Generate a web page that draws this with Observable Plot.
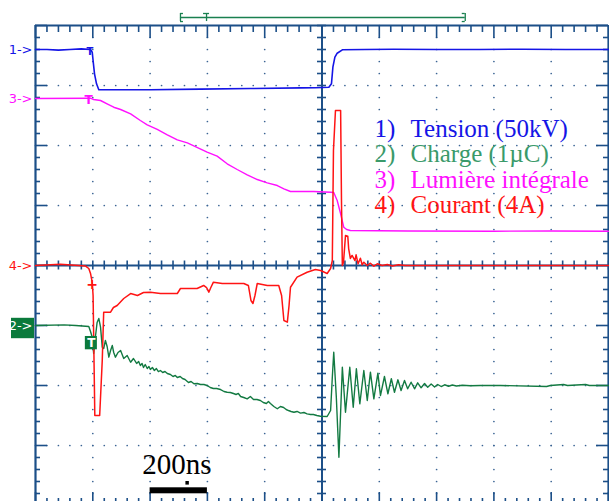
<!DOCTYPE html>
<html>
<head>
<meta charset="utf-8">
<script src="https://cdn.jsdelivr.net/npm/d3@7"></script>
<script src="https://cdn.jsdelivr.net/npm/@observablehq/plot@0.6"></script>
<style>
  html, body { margin: 0; padding: 0; background: #fff; overflow: hidden; }
  #chart { width: 609px; height: 501px; }
</style>
</head>
<body>
<div id="chart"></div>
<script>
// Time in ns (200 ns / division), value in screen divisions (0 = centre line)
const tensionT = [0, 40, 80, 120, 160, 192, 198, 201, 206, 213, 221, 272, 401, 576, 750, 925, 977, 1024, 1033, 1038, 1045, 1053, 1071, 1150, 1250, 1400, 1550, 1700, 1850, 2000];
const tensionV = [3.6, 3.6, 3.59, 3.6, 3.61, 3.6, 3.555, 3.417, 3.195, 3.028, 2.928, 2.928, 2.93, 2.94, 2.95, 2.96, 2.963, 2.97, 3.028, 3.305, 3.472, 3.538, 3.595, 3.6, 3.605, 3.6, 3.6, 3.605, 3.6, 3.6];

const lumiereT = [0, 192, 203, 227, 250, 273, 297, 332, 366, 390, 425, 460, 495, 530, 558, 599, 634, 669, 704, 739, 774, 809, 844, 867, 890, 971, 1030, 1041, 1053, 1065, 1076, 1086, 1099, 1300, 1600, 1800, 2000];
const lumiereV = [2.783, 2.788, 2.767, 2.75, 2.695, 2.638, 2.6, 2.528, 2.417, 2.345, 2.267, 2.178, 2.095, 2.045, 1.983, 1.888, 1.822, 1.695, 1.6, 1.512, 1.433, 1.378, 1.333, 1.278, 1.233, 1.233, 1.222, 1.217, 1.083, 0.862, 0.638, 0.6, 0.583, 0.575, 0.572, 0.575, 0.572];

const courantT = [0, 87, 175, 186, 192, 198, 201, 207, 224, 233, 238, 262, 272, 285, 308, 332, 356, 377, 401, 436, 495, 506, 564, 587, 597, 605, 612, 621, 652, 727, 743, 752, 759, 766, 774, 809, 849, 859, 867, 879, 885, 890, 913, 948, 977, 995, 1018, 1030, 1036, 1040, 1047, 1065, 1068, 1071, 1075, 1082, 1090, 1093, 1099, 1105, 1115, 1119, 1126, 1134, 1140, 1146, 1158, 1169, 1181, 1193, 1210, 1228, 1246, 1267, 1291, 2000];
const courantV = [0, 0.02, -0.01, -0.05, -0.133, -0.283, -0.5, -2.5, -2.5, -1.583, -0.778, -0.778, -0.7, -0.667, -0.55, -0.467, -0.5, -0.45, -0.445, -0.467, -0.467, -0.383, -0.383, -0.333, -0.367, -0.445, -0.367, -0.278, -0.3, -0.3, -0.333, -0.583, -0.633, -0.5, -0.3, -0.333, -0.333, -0.5, -0.917, -0.945, -0.667, -0.362, -0.195, -0.112, -0.067, -0.083, -0.133, -0.05, 0.083, 1.917, 2.583, 2.583, 1.083, 0, 0.05, 0.5, 0.488, 0.283, 0.117, 0.167, 0.083, 0.178, 0.028, 0.122, 0.012, 0.055, 0, 0.038, -0.012, 0.028, 0, 0.017, -0.008, 0.012, 0, 0];

const chargeT = [0, 100, 140, 175, 186, 192, 198, 203, 209, 215, 221, 227, 233, 238, 244, 250, 256, 262, 268, 273, 279, 288, 297, 308, 320, 332, 342, 353, 360, 366, 372, 377, 383, 390, 396, 401, 408, 415, 422, 429, 436, 444, 452, 460, 471, 480, 488, 495, 505, 513, 522, 534, 543, 553, 565, 576, 588, 599, 610, 621, 632, 646, 658, 669, 680, 691, 700, 708, 716, 727, 739, 750, 761, 773, 785, 795, 806, 813, 820, 832, 844, 855, 866, 875, 883, 892, 902, 913, 925, 937, 948, 960, 970, 982, 995, 1018, 1030, 1036, 1041, 1050, 1059, 1071, 1082, 1097, 1109, 1120, 1132, 1146, 1158, 1169, 1181, 1195, 1204, 1218, 1230, 1242, 1253, 1265, 1276, 1288, 1299, 1311, 1323, 1334, 1346, 1358, 1369, 1381, 1393, 1404, 1416, 1428, 1442, 1455, 1469, 1490, 1518, 1553, 1623, 1784, 1797, 1843, 1857, 1920, 1933, 2000];
const chargeV = [-1.0, -0.99, -1.0, -1.012, -1.017, -1.1, -1.195, -1.467, -1.195, -0.95, -0.883, -1.028, -1.362, -1.383, -1.25, -1.35, -1.528, -1.417, -1.333, -1.45, -1.528, -1.45, -1.417, -1.55, -1.5, -1.612, -1.55, -1.633, -1.6, -1.667, -1.633, -1.7, -1.65, -1.717, -1.683, -1.733, -1.7, -1.75, -1.717, -1.767, -1.75, -1.783, -1.767, -1.8, -1.817, -1.85, -1.833, -1.867, -1.85, -1.883, -1.9, -1.95, -1.933, -1.972, -1.967, -1.983, -1.983, -2.0, -2.033, -2.05, -2.05, -2.067, -2.1, -2.112, -2.117, -2.133, -2.15, -2.133, -2.183, -2.2, -2.222, -2.183, -2.233, -2.233, -2.25, -2.283, -2.3, -2.267, -2.3, -2.35, -2.388, -2.35, -2.367, -2.4, -2.417, -2.433, -2.445, -2.433, -2.46, -2.45, -2.472, -2.483, -2.483, -2.5, -2.512, -2.517, -2.417, -1.862, -1.445, -2.195, -3.195, -1.695, -2.445, -1.695, -2.362, -1.722, -2.305, -1.75, -2.25, -1.778, -2.222, -1.795, -2.167, -1.85, -2.138, -1.888, -2.112, -1.905, -2.083, -1.917, -2.055, -1.945, -2.055, -1.955, -2.038, -1.967, -2.028, -1.975, -2.025, -1.983, -2.017, -1.988, -2.012, -1.992, -2.008, -1.997, -2.005, -2.0, -2.0, -2.017, -2.0, -1.983, -2.0, -1.983, -2.0, -2.0];

const legendNums = ["1)", "2)", "3)", "4)"];
const legendNames = ["Tension (50kV)", "Charge (1\u00b5C)", "Lumi\u00e8re int\u00e9grale", "Courant (4A)"];
const legendColors = ["#1515e6", "#3a9a6a", "#ff10ff", "#ff1414"];
const channelLabels = ["1->", "3->", "4->", "2->"];
const channelLevels = [3.6, 2.783, 0, -1.0];
const channelColors = ["#1515e6", "#ff10ff", "#ff1414", "#ffffff"];
const scaleLabel = "200ns";

const toPts = (T, V) => T.map((t, i) => ({t, v: V[i]}));
const tension = toPts(tensionT, tensionV);
const lumiere = toPts(lumiereT, lumiereV);
const courant = toPts(courantT, courantV);
const charge = toPts(chargeT, chargeV);

// grid structure
const frameCol = "#1c4f88";
const dotCol = "#3b6494";
const xMinor = d3.range(0, 51).map(i => i * 40);
const yMinor = d3.range(-20, 21).map(i => i / 5);
const xMajorGrid = [200, 400, 600, 800, 1200, 1400, 1600, 1800];
const yMajorGrid = [-3, -2, -1, 1, 2, 3];
const isMajX = t => t % 200 === 0;
const isMajY = v => Math.abs(v - Math.round(v)) < 1e-6;
const PX = 2000 / 573;  // ns per pixel
const PY = 1 / 60;      // div per pixel

const dots = [];
for (const t of xMajorGrid) for (const v of yMinor) dots.push({t, v});
for (const v of yMajorGrid) for (const t of xMinor) dots.push({t, v});

const legend = legendNums.map((n, i) => ({n, name: legendNames[i], c: legendColors[i], v: [2.278, 1.862, 1.428, 1.012][i]}));
const chLab = channelLabels.map((s, i) => ({s, v: channelLevels[i], c: channelColors[i]}));

const chart = Plot.plot({
  width: 609,
  height: 501,
  marginLeft: 35,
  marginRight: 1,
  marginTop: 25,
  marginBottom: 0,
  x: {domain: [0, 2000], axis: null},
  y: {domain: [(265 - 501) / 60, 4], axis: null},
  style: {overflow: "visible", background: "white"},
  marks: [
    // dotted grid
    Plot.dot(dots, {x: "t", y: "v", r: 0.85, fill: dotCol, stroke: null}),
    // frame
    Plot.ruleX([0, 2000], {y1: -4, y2: 4, stroke: frameCol, strokeWidth: 2.2}),
    Plot.ruleY([4, -4], {x1: 0, x2: 2000, stroke: frameCol, strokeWidth: 2.2}),
    // centre axes
    Plot.ruleX([1000], {y1: -4, y2: 4, stroke: frameCol, strokeWidth: 2}),
    Plot.ruleY([0], {x1: 0, x2: 2000, stroke: frameCol, strokeWidth: 2}),
    // ticks on left / right borders
    Plot.ruleY(yMinor, {y: d => d, x1: d => 0, x2: d => (isMajY(d) ? 12 : 5) * PX, stroke: frameCol, strokeWidth: 1.6}),
    Plot.ruleY(yMinor, {y: d => d, x1: d => 2000, x2: d => 2000 - (isMajY(d) ? 12 : 5) * PX, stroke: frameCol, strokeWidth: 1.6}),
    // ticks on top / bottom borders
    Plot.ruleX(xMinor, {x: d => d, y1: d => 4, y2: d => 4 - (isMajX(d) ? 13 : 7) * PY, stroke: frameCol, strokeWidth: 1.6}),
    Plot.ruleX(xMinor, {x: d => d, y1: d => -4, y2: d => -4 + (isMajX(d) ? 13 : 7) * PY, stroke: frameCol, strokeWidth: 1.6}),
    // ticks on centre axes
    Plot.ruleY(yMinor, {y: d => d, x1: d => 1000 - 4.5 * PX, x2: d => 1000 + 4.5 * PX, stroke: frameCol, strokeWidth: 1.6}),
    Plot.ruleX(xMinor, {x: d => d, y1: d => -4.5 * PY, y2: d => 4.5 * PY, stroke: frameCol, strokeWidth: 1.6}),

    // traces
    Plot.line(lumiere, {x: "t", y: "v", stroke: "#ff10ff", strokeWidth: 1.4}),
    Plot.line(tension, {x: "t", y: "v", stroke: "#1515e6", strokeWidth: 1.6}),
    Plot.line(charge, {x: "t", y: "v", stroke: "#137a42", strokeWidth: 1.4}),
    Plot.line(courant, {x: "t", y: "v", stroke: "#ff1414", strokeWidth: 1.5}),

    // trigger markers
    Plot.text([{t: 190, v: 3.555, c: "#1515e6"}], {x: "t", y: "v", text: d => "T", fill: "c", fontSize: 10, fontWeight: "bold", fontFamily: "DejaVu Sans"}),
    Plot.text([{t: 185, v: 2.76, c: "#ff10ff"}], {x: "t", y: "v", text: d => "T", fill: "c", fontSize: 12, fontWeight: "bold", fontFamily: "DejaVu Sans"}),
    Plot.text([{t: 198, v: -0.32, c: "#ff1414"}], {x: "t", y: "v", text: d => "+", fill: "c", fontSize: 14, fontWeight: "bold", fontFamily: "DejaVu Sans"}),
    Plot.rect([{}], {x1: 174, x2: 216, y1: -1.183, y2: -1.405, fill: "#0b7a3c"}),
    Plot.text([{t: 195, v: -1.29}], {x: "t", y: "v", text: d => "T", fill: "white", fontSize: 12, fontWeight: "bold", fontFamily: "DejaVu Sans"}),

    // channel labels at left
    Plot.rect([{}], {x1: -24 * PX, x2: -1 * PX, y1: -0.88, y2: -1.22, fill: "#0b7a3c"}),
    Plot.text(chLab, {x: d => 0, y: "v", text: "s", fill: "c", dx: -3, textAnchor: "end", fontSize: 13, fontFamily: "DejaVu Sans"}),

    // acquisition bracket above the grid
    Plot.ruleY([4.133], {x1: 506, x2: 1500, stroke: "#1a8050", strokeWidth: 1.3}),
    Plot.ruleX([506, 597, 1500], {y1: 4.2, y2: 4.066, stroke: "#1a8050", strokeWidth: 1.3}),
    Plot.ruleY([4.2, 4.066], {x1: 506, x2: 506 + 3 * PX, stroke: "#1a8050", strokeWidth: 1.3}),
    Plot.ruleY([4.2, 4.066], {x1: 1500, x2: 1500 - 3 * PX, stroke: "#1a8050", strokeWidth: 1.3}),
    Plot.ruleY([4.2], {x1: 597 - 3 * PX, x2: 597 + 3 * PX, stroke: "#1a8050", strokeWidth: 1.3}),

    // legend
    Plot.text(legend, {x: d => 1183, y: "v", text: "n", fill: "c", textAnchor: "start", fontSize: 25, fontFamily: "Liberation Serif"}),
    Plot.text(legend, {x: d => 1309, y: "v", text: "name", fill: "c", textAnchor: "start", fontSize: 25, fontFamily: "Liberation Serif"}),

    // time scale bar
    Plot.text([scaleLabel], {x: d => 373, y: d => -3.312, text: d => d, fill: "black", textAnchor: "start", fontSize: 29, fontFamily: "Liberation Serif"}),
    Plot.rect([{}], {x1: 400, x2: 600, y1: -3.705, y2: -3.805, fill: "black"}),
    Plot.rect([{}], {x1: 525, x2: 537, y1: -3.6, y2: -3.66, fill: "black"})
  ]
});
document.getElementById("chart").appendChild(chart);
</script>
</body>
</html>
